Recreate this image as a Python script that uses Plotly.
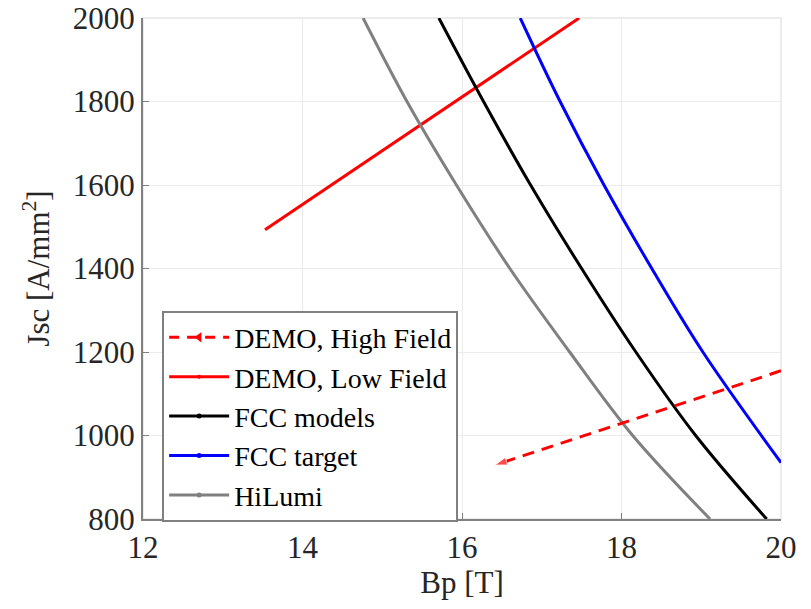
import plotly.graph_objects as go

# ---- data ----
demo_high_b = [20.0, 16.41]
demo_high_j = [1155, 929]

demo_low_b = [13.53, 17.47]
demo_low_j = [1493, 2000]

fcc_models_b = [15.71, 16.27, 16.86, 17.50, 18.18, 18.93, 19.82]
fcc_models_j = [2000, 1800, 1600, 1400, 1200, 1000, 800]

fcc_target_b = [16.73, 17.23, 17.78, 18.38, 19.02, 20.0]
fcc_target_j = [2000, 1800, 1600, 1400, 1200, 935]

hilumi_b = [14.76, 15.31, 15.93, 16.60, 17.35, 18.14, 19.11]
hilumi_j = [2000, 1800, 1600, 1400, 1200, 1000, 800]

x_ticks = [12, 14, 16, 18, 20]
y_ticks = [800, 1000, 1200, 1400, 1600, 1800, 2000]

FONT = "Liberation Serif"
TXT = "#262626"

fig = go.Figure()

curves = [
    ("FCC models", fcc_models_b, fcc_models_j, "#000000"),
    ("FCC target", fcc_target_b, fcc_target_j, "#0000ff"),
    ("HiLumi", hilumi_b, hilumi_j, "#808080"),
]

# faint box on top/right edges (like the grid at the range limits)
fig.add_shape(type="rect", xref="paper", yref="paper", x0=0, x1=1, y0=0, y1=1,
              line=dict(color="#e6e6e6", width=1.5), layer="below")

# actual curves
fig.add_trace(go.Scatter(x=demo_low_b, y=demo_low_j, mode="lines",
                         line=dict(color="#ff0000", width=3), showlegend=False))
for name, xb, yj, col in curves:
    fig.add_trace(go.Scatter(x=xb, y=yj, mode="lines", line_shape="spline",
                             line=dict(color=col, width=3), showlegend=False))
fig.add_trace(go.Scatter(
    x=demo_high_b, y=demo_high_j, mode="lines+markers",
    line=dict(color="#ff0000", width=3, dash="12px,8px"),
    marker=dict(symbol="arrow", angleref="previous",
                size=[0 for _ in demo_high_b[:-1]] + [13], color="#ff0000"),
    showlegend=False))

# legend entries (no data drawn)
fig.add_trace(go.Scatter(x=[None], y=[None], mode="lines+markers", name="DEMO, High Field",
                         line=dict(color="#ff0000", width=3, dash="10px,8px"),
                         marker=dict(symbol="triangle-left", size=9, color="#ff0000")))
fig.add_trace(go.Scatter(x=[None], y=[None], mode="lines+markers", name="DEMO, Low Field",
                         line=dict(color="#ff0000", width=3),
                         marker=dict(size=4, color="#ff0000")))
for name, xb, yj, col in curves:
    fig.add_trace(go.Scatter(x=[None], y=[None], mode="lines+markers", name=name,
                             line=dict(color=col, width=3),
                             marker=dict(size=5, color=col)))

axis_common = dict(
    showline=True, linecolor="#808080", linewidth=2,
    ticks="inside", ticklen=6, tickcolor="#808080", tickwidth=1,
    showgrid=True, gridcolor="#ebebeb", gridwidth=1,
    zeroline=False, mirror=False, automargin=False,
    ticklabeloverflow="allow",
    tickfont=dict(family=FONT, size=31, color=TXT),
)

fig.update_xaxes(range=[12, 20], tickvals=x_ticks, ticktext=[str(v) for v in x_ticks],
                 title=dict(text="Bp [T]", font=dict(family=FONT, size=31, color=TXT), standoff=6),
                 **axis_common)
fig.update_yaxes(range=[800, 2000], tickvals=y_ticks, ticktext=[str(v) for v in y_ticks],
                 title=dict(text="Jsc [A/mm<sup>2</sup>]", font=dict(family=FONT, size=31, color=TXT), standoff=14),
                 **axis_common)

fig.update_layout(
    width=811, height=609,
    margin=dict(l=143, r=30, t=18, b=90),
    paper_bgcolor="white", plot_bgcolor="white",
    font=dict(family=FONT, color=TXT),
    legend=dict(x=0.03, y=0.416, xanchor="left", yanchor="top",
                bgcolor="white", bordercolor="#808080", borderwidth=2,
                font=dict(family=FONT, size=28, color="#000000"),
                itemwidth=60, tracegroupgap=0),
)

# remove the default 8px page margin so the figure sits at the window's corner
fig.write_html("out.html", config={"displayModeBar": False},
               post_script="document.body.style.margin='0';")
